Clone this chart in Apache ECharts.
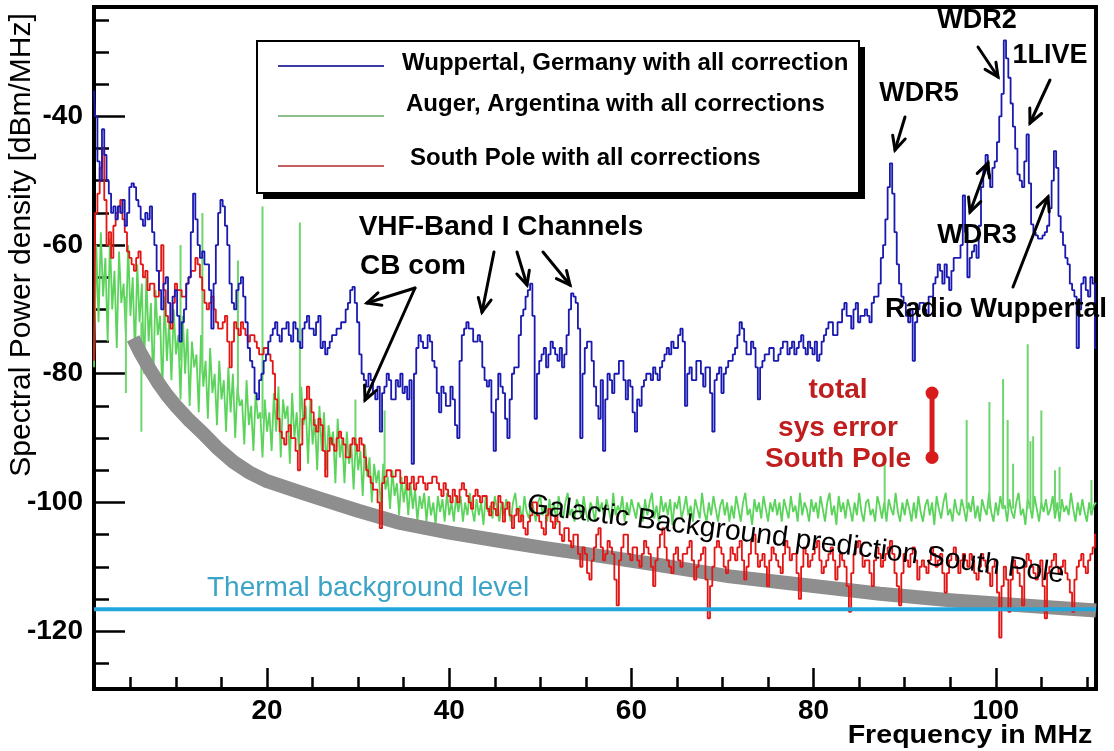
<!DOCTYPE html>
<html>
<head>
<meta charset="utf-8">
<script src="https://cdn.jsdelivr.net/npm/echarts@6/dist/echarts.min.js"></script>
<style>
html,body{margin:0;padding:0;background:#fff;}
#chart{width:1114px;height:751px;}
</style>
</head>
<body>
<div id="chart"></div>
<script>
// ---------------- data ----------------
const freqStart = 1.0;   // MHz, first sample of every spectrum
const freqStep = 0.25;   // MHz between samples

// Wuppertal, Germany (dBm/MHz), 1.00 ... 111.00 MHz
const wuppertal = [
  -36, -40, -47, -50, -42, -46, -50, -52, -55, -54, -56, -54, -55, -53, -57, -55, -51, -50.4, -51, -53,
  -54, -56, -57, -55, -56, -54, -58, -60, -64, -67, -70, -66, -65, -69, -72, -68, -67, -71, -75, -72,
  -70, -66, -65, -58, -52, -56, -60, -62, -61, -63, -63, -67, -73, -66, -60, -55, -53, -54, -57, -60,
  -66, -69, -70, -67, -66, -65, -68, -72, -76, -78, -79, -83, -84, -81, -80, -78, -77, -75, -74, -73,
  -72, -74, -75, -73, -73, -72, -74, -75, -72, -73, -75, -76, -73, -72, -71, -73, -73, -74, -72, -71,
  -76, -75, -77, -76, -75, -74, -74, -73, -73, -72, -72, -70, -69, -67, -66.5, -69, -72, -77, -80, -81,
  -82, -80, -81, -83, -84, -82, -89, -83, -82, -80, -81, -84, -84, -81, -82, -80, -83, -82, -84, -81,
  -94, -80, -76, -74, -75, -76, -76, -74, -75, -78, -79, -83, -86, -82, -83, -85, -85, -82, -84, -88,
  -90, -78, -74, -73, -72, -73, -73, -75, -75, -74, -75, -79, -81, -82, -81, -86, -92, -84, -80, -82,
  -83, -87, -90, -84, -80, -79, -79, -74, -71, -70, -68, -67, -66, -71, -87, -80, -78, -77, -76, -79,
  -77, -75, -76, -77, -78, -76, -79, -77, -74, -70, -67.5, -68, -69, -73, -90, -80, -76, -75, -75, -78,
  -82, -85, -87, -81, -92, -84, -80, -81, -83, -80, -80, -78, -78, -81, -84, -81, -82, -86, -89, -84,
  -85, -82, -81, -80, -80, -81, -79, -80, -81, -79, -78, -77, -76, -77, -75, -76, -76, -74, -73, -75,
  -85, -80, -79, -81, -81, -78, -78, -80, -82, -79, -79, -83, -89, -81, -80, -79, -83, -80, -79, -78,
  -78, -77, -76, -74, -72, -73, -75, -77, -77, -75, -76, -79, -84, -79, -78, -77, -77, -76, -76, -78,
  -78, -77, -76, -75, -75, -77, -76, -75, -77, -76, -75, -74, -76, -77, -75, -76, -77, -75, -78, -77,
  -75, -74, -73, -72, -72, -74, -74, -72, -72, -70, -69, -71, -71, -73, -70, -69, -72, -71, -71, -70,
  -71, -72, -69, -68, -68, -66, -62, -60, -56, -51, -47.3, -52, -58, -63, -66, -68, -69, -71, -72, -70,
  -78, -72, -70, -69, -69, -70, -71, -68, -68, -66, -65, -63, -64, -66, -63, -65, -67, -64, -62, -62,
  -62, -60, -52.3, -58, -65, -62, -61, -60, -62, -57, -51, -48, -46, -49, -51, -48, -47, -44, -40, -36.5,
  -28.2, -31, -34, -38, -41.6, -45, -49, -50, -51, -47, -42.8, -50.4, -56.8, -58, -58.5, -59, -59, -58.5, -58, -57,
  -54.3, -50, -45.4, -48, -55.5, -58, -60, -62, -63, -66, -67, -68, -76, -70, -66, -65, -67, -68, -65, -66,
  -76
];

// Auger, Argentina (dBm/MHz), 1.00 ... 111.00 MHz
const auger = [
  -79, -60, -72, -58, -68, -62, -75, -59, -70, -64, -76, -61, -69, -66, -74, -60, -71, -65, -77, -63,
  -72, -66, -80, -65, -75, -69, -82, -67, -74, -71, -83, -68, -78, -72, -81, -70, -77, -74, -84, -71,
  -80, -73, -85, -75, -79, -77, -86, -74, -82, -78, -87, -76, -83, -80, -88, -78, -84, -81, -89, -79,
  -86, -80, -90, -82, -85, -84, -91, -81, -88, -85, -92, -83, -87, -86, -93, -84, -89, -86, -92, -83,
  -89, -82, -93, -84, -87, -85, -94, -83, -90, -86, -92, -82, -88, -85, -94, -84, -91, -87, -95, -85,
  -92, -86, -95, -88, -91, -89, -97, -87, -93, -90, -97, -89, -94, -91, -98, -90, -95, -92, -99, -91,
  -96, -93, -100, -94, -97, -95, -101, -94, -98, -96, -101, -95, -99, -97, -102, -96, -100, -97, -102, -97,
  -101, -98, -103, -99, -101, -98.5, -103, -99, -102, -100, -103.5, -99, -101.5, -99.5, -103, -98.5, -102, -100, -103, -99,
  -101.5, -99, -103, -100, -102, -98.5, -101, -103, -99.5, -102, -100, -103.5, -99, -101.5, -100.5, -102.5, -99, -101, -103, -100,
  -102, -99.5, -101, -103, -100, -98.5, -102, -100.5, -103, -99, -101.5, -102.5, -99.5, -101, -103, -100, -99, -102, -100.5, -103,
  -99.5, -102, -100, -103.5, -99, -101, -102.5, -100, -98.5, -102, -101, -103, -99.5, -100.5, -102.5, -99, -101.5, -103, -100, -101,
  -103, -99, -101.5, -100, -102.5, -99.5, -101, -103, -98.5, -102, -100.5, -101.5, -99, -103, -100, -102, -99.5, -101, -102.5, -100,
  -101, -103, -99.5, -102, -100, -98.5, -102.5, -100.5, -103, -99, -101.5, -100, -102, -99.5, -103.5, -100, -101, -99, -102.5, -101,
  -99, -102, -100.5, -103, -99.5, -101, -102.5, -98.5, -101.5, -103, -100, -102, -99, -101, -103, -100.5, -99.5, -102, -100, -103,
  -100.5, -102.5, -99, -101, -103, -100, -98.5, -102, -101, -103.5, -99.5, -101.5, -100, -102.5, -99, -101, -103, -100, -101.5, -99.5,
  -102, -100, -103, -99.5, -101, -102.5, -99, -101.5, -100.5, -103, -98.5, -102, -100, -101, -103, -99.5, -101.5, -100, -102.5, -99,
  -101, -103, -100, -98.5, -102, -100.5, -103.5, -99, -101.5, -100, -102.5, -99.5, -101, -103, -100, -102, -98.5, -101.5, -103, -100,
  -99.5, -102, -101, -103, -99, -100.5, -102.5, -100, -103, -99.5, -101, -102, -98.5, -101.5, -103, -100, -102, -99.5, -101, -103,
  -100, -102.5, -99, -101.5, -103, -100.5, -99.5, -102, -100, -103.5, -99, -101, -102.5, -100, -98.5, -102, -101, -103, -99.5, -101.5,
  -102, -99.5, -101, -103, -100, -101.5, -99, -102.5, -100.5, -103, -99.5, -101, -102, -98.5, -101.5, -103, -100, -102, -99, -101,
  -100.5, -103, -99.5, -101.5, -102.5, -100, -98.5, -102, -101, -103.5, -99.5, -100.5, -102.5, -99, -101, -103, -100, -101.5, -99.5, -102,
  -101, -99, -102.5, -100, -103, -99.5, -101.5, -100.5, -102, -98.5, -101, -103, -100, -102, -99.5, -101.5, -103, -100, -102, -100.5,
  -100
];

// Auger narrow-band lines: [freq MHz, level at foot, level at tip]
const augerSpikes = [
  [4.5, -68, -83], [6.2, -72, -89], [10.5, -78, -60], [12.9, -80, -55],
  [16.8, -84, -62.4], [19.5, -87, -54], [23.6, -86, -56.5], [29.7, -92, -84],
  [32.9, -96, -85.7], [87.8, -101, -94], [96.8, -101, -87.2], [99.3, -101, -84.4],
  [100.8, -101, -80.8], [101.3, -101, -87.2], [101.9, -101, -94], [103.5, -101, -75.4],
  [103.8, -101, -90.5], [104.1, -101, -89.7], [105.0, -101, -85.7], [106.5, -101, -95],
  [107.0, -101, -94.5], [110.5, -101, -96.5]
];

// South Pole (dBm/MHz), 1.00 ... 111.00 MHz
const southPole = [
  -78, -55, -52, -48, -45, -53, -60, -58, -62, -57, -55, -54, -53, -56, -58, -61, -62, -63, -64, -62,
  -61, -63, -65, -64, -67, -66, -66, -68, -68, -64, -60, -67, -71, -72, -73, -69, -66, -67, -67, -68,
  -68, -66, -65, -64, -64, -62, -63, -65, -67, -69, -70, -69, -68, -70, -72, -73, -73, -72, -71, -75,
  -79, -75, -72, -73, -74, -72, -73, -74, -75, -74, -74, -75, -76, -77, -77, -76, -76, -77, -78, -80,
  -84, -87, -89, -90, -91, -89, -88, -90, -90, -92, -95, -91, -87, -84, -82, -84, -86, -88, -89, -87,
  -88, -92, -96, -92, -90, -91, -92, -90, -89, -90, -91, -93, -93, -91, -90, -91, -92, -90, -91, -93,
  -95, -96, -97, -98, -98, -100, -104, -97, -96, -95, -95, -96, -96, -95, -95, -97, -97, -96, -98, -97,
  -96, -98, -97, -96, -96, -97, -98, -97, -97, -96, -96, -97, -98, -99, -97, -98, -99, -100, -98, -99,
  -100, -98, -97, -98, -99, -100, -101, -99, -98, -99, -100, -99, -99, -101, -102, -100, -101, -102, -99, -100,
  -103, -101, -100, -102, -104, -102, -101, -103, -102, -104, -105, -103, -102, -100, -100, -102, -103, -104, -105, -102,
  -101, -103, -104, -102, -103, -105, -106, -104, -104, -106, -107, -105, -105, -108, -110, -107, -108, -111, -112, -109,
  -107, -105, -104, -107, -109, -108, -106, -107, -108, -112, -116, -109, -107, -105, -105, -108, -109, -107, -107, -109,
  -110, -108, -106, -107, -108, -110, -113, -109, -107, -105, -104, -107, -109, -110, -111, -108, -107, -109, -110, -108,
  -108, -107, -106, -109, -112, -110, -109, -108, -107, -112, -118, -113, -110, -107, -106, -107, -108, -110, -111, -109,
  -107, -108, -109, -107, -106, -109, -112, -110, -108, -106, -105, -108, -110, -109, -108, -110, -113, -109, -107, -108,
  -109, -110, -111, -108, -106, -107, -109, -108, -108, -111, -115, -110, -107, -108, -110, -109, -108, -107, -106, -109,
  -111, -110, -109, -108, -107, -109, -112, -110, -108, -109, -110, -113, -117, -111, -108, -107, -106, -108, -110, -109,
  -109, -111, -113, -109, -107, -108, -110, -109, -108, -107, -106, -108, -111, -113, -116, -111, -108, -109, -110, -108,
  -107, -109, -112, -110, -109, -110, -111, -109, -107, -108, -110, -109, -108, -111, -114, -111, -109, -108, -107, -109,
  -111, -109, -108, -109, -110, -108, -109, -111, -112, -110, -108, -109, -110, -111, -113, -110, -109, -114, -121, -113,
  -110, -112, -117, -112, -109, -110, -111, -113, -116, -110, -108, -109, -110, -111, -112, -110, -109, -113, -118, -111,
  -110, -109, -108, -110, -111, -110, -109, -111, -112, -114, -117, -112, -110, -109, -108, -110, -111, -109, -108, -107,
  -105
];

// Galactic background prediction (South Pole)
const galFreq = [5.3, 6, 7, 8, 9, 10, 11.5, 13, 14.5, 16.3, 18, 20, 23.6, 25.8, 30, 34.6, 40, 45.6, 50, 56.5, 62, 70.8, 80, 87.3, 95, 100, 105, 111];
const galVals = [-74.5, -76.5, -79, -81.3, -83.3, -85, -87.3, -89.3, -91.5, -93.7, -95.3, -96.7, -98.4, -99.4, -101.3, -103.2, -104.7, -106, -107, -108.3, -109.5, -111.5, -113, -114.2, -115.2, -115.7, -116.2, -116.8];

// Thermal background level
const thermalFreq = [1, 111];
const thermalLevel = -116.6;

// total systematic error bar (South Pole)
const sysErrFreq = 93;
const sysErrRange = [-83, -93];

// axes
const xMajorTicks = [20, 40, 60, 80, 100];
const xMinorTicks = [5, 10, 15, 20, 25, 30, 35, 40, 45, 50, 55, 60, 65, 70, 75, 80, 85, 90, 95, 100, 105, 110];
const yMajorTicks = [-120, -100, -80, -60, -40];
const yMinorTicks = [-125, -120, -115, -110, -105, -100, -95, -90, -85, -80, -75, -70, -65, -60, -55, -50, -45, -40, -35, -30, -25];

// ---------------- build ----------------
const FONT = "'Liberation Sans', Arial, Helvetica, sans-serif";
const toPairs = arr => arr.map((v, i) => [freqStart + i * freqStep, v]);
const spikeData = [];
augerSpikes.forEach(s => { spikeData.push([s[0], s[1]], [s[0], s[2]], '-'); });

const chart = echarts.init(document.getElementById('chart'), null, {renderer: 'canvas'});

function arrow(x1, y1, x2, y2, both) {
  const els = [];
  const ls = {stroke: '#000', lineWidth: 3, lineCap: 'round'};
  els.push({type: 'line', shape: {x1, y1, x2, y2}, style: ls, z: 100});
  const head = (ax, ay, bx, by) => {
    const a = Math.atan2(by - ay, bx - ax);
    const L = 15, w = 0.45;
    return {type: 'polyline', shape: {points: [
      [bx - L * Math.cos(a - w), by - L * Math.sin(a - w)], [bx, by],
      [bx - L * Math.cos(a + w), by - L * Math.sin(a + w)]]},
      style: Object.assign({fill: null}, ls, {lineJoin: 'miter'}), z: 100};
  };
  els.push(head(x1, y1, x2, y2));
  if (both) els.push(head(x2, y2, x1, y1));
  return els;
}
function txt(text, x, y, opt) {
  opt = opt || {};
  return {type: 'text', x, y, rotation: opt.rot || 0, scaleX: opt.sx || 1, z: 101,
    style: {text, fontFamily: FONT, fontSize: opt.size || 28, fontWeight: opt.weight || 'bold',
      fill: opt.color || '#000', align: opt.align || 'center', verticalAlign: 'middle',
      textAlign: opt.align || 'center', textVerticalAlign: 'middle'}};
}

const graphics = [].concat(
  // legend box
  [{type: 'rect', shape: {x: 263, y: 47, width: 602, height: 152}, style: {fill: '#000'}, z: 90},
   {type: 'rect', shape: {x: 257, y: 41, width: 602, height: 152}, style: {fill: '#fff', stroke: '#000', lineWidth: 2}, z: 91},
   {type: 'line', shape: {x1: 278, y1: 66, x2: 384, y2: 66}, style: {stroke: '#3c3ca8', lineWidth: 2}, z: 92},
   {type: 'line', shape: {x1: 278, y1: 116, x2: 384, y2: 116}, style: {stroke: '#8cbf8c', lineWidth: 2}, z: 92},
   {type: 'line', shape: {x1: 278, y1: 166, x2: 384, y2: 166}, style: {stroke: '#c46060', lineWidth: 2}, z: 92},
   txt('Wuppertal, Germany with all correction', 402, 63, {size: 24, align: 'left'}),
   txt('Auger, Argentina with all corrections', 406, 104, {size: 24, align: 'left'}),
   txt('South Pole with all corrections', 410, 158, {size: 24, align: 'left'}),
   // annotations
   txt('WDR2', 977, 21, {size: 27}),
   txt('1LIVE', 1050, 56, {size: 27}),
   txt('WDR5', 919, 94, {size: 27}),
   txt('WDR3', 977, 236, {size: 27}),
   txt('Radio Wuppertal', 996, 309, {size: 28}),
   txt('VHF-Band I Channels', 501, 227, {size: 28}),
   txt('CB com', 413, 266, {size: 28}),
   txt('total', 838, 390, {size: 28, color: '#c01e1e'}),
   txt('sys error', 838, 428, {size: 28, color: '#c01e1e'}),
   txt('South Pole', 838, 459, {size: 28, color: '#c01e1e'}),
   txt('Thermal background level', 207, 588, {size: 28, weight: 'normal', color: '#3aa3c6', align: 'left'}),
   txt('Galactic Background prediction South Pole', 527, 505, {size: 28.5, weight: 'normal', align: 'left', rot: -7.4 * Math.PI / 180}),
   txt('Spectral Power density [dBm/MHz]', 22, 245, {size: 30, weight: 'normal', rot: Math.PI / 2}),
   txt('Frequency in MHz', 970, 736, {size: 26, sx: 1.1})
  ],
  arrow(415, 288, 367, 303), arrow(415, 288, 365, 400),
  arrow(494, 252, 482, 312), arrow(517, 252, 527, 285), arrow(543, 252, 570, 285),
  arrow(978, 47, 998, 77), arrow(1050, 80, 1030, 123), arrow(905, 117, 895, 150),
  arrow(970, 212, 988, 163, true), arrow(1013, 287, 1048, 197)
);

const option = {
  animation: false,
  backgroundColor: '#fff',
  grid: {left: 94, right: 18, top: 7, bottom: 62, show: true, borderColor: '#000', borderWidth: 4, backgroundColor: 'transparent'},
  xAxis: [
    {type: 'value', min: 1, max: 111, position: 'bottom',
     axisLine: {show: true, onZero: false, lineStyle: {color: '#000', width: 4}},
     axisTick: {show: true, inside: true, length: 21, customValues: xMajorTicks, lineStyle: {color: '#000', width: 2.5}},
     axisLabel: {show: true, customValues: xMajorTicks, margin: 8, color: '#000', fontSize: 28, fontWeight: 'bold', fontFamily: FONT},
     splitLine: {show: false}},
    {type: 'value', min: 1, max: 111, position: 'bottom',
     axisLine: {show: false, onZero: false},
     axisTick: {show: true, inside: true, length: 12, customValues: xMinorTicks, lineStyle: {color: '#000', width: 2.5}},
     axisLabel: {show: false}, splitLine: {show: false}}
  ],
  yAxis: [
    {type: 'value', min: -129, max: -23, position: 'left',
     axisLine: {show: true, onZero: false, lineStyle: {color: '#000', width: 4}},
     axisTick: {show: true, inside: true, length: 31, customValues: yMajorTicks, lineStyle: {color: '#000', width: 2.5}},
     axisLabel: {show: true, customValues: yMajorTicks, margin: 11, color: '#000', fontSize: 28, fontWeight: 'bold', fontFamily: FONT},
     splitLine: {show: false}},
    {type: 'value', min: -129, max: -23, position: 'left',
     axisLine: {show: false, onZero: false},
     axisTick: {show: true, inside: true, length: 15, customValues: yMinorTicks, lineStyle: {color: '#000', width: 2.5}},
     axisLabel: {show: false}, splitLine: {show: false}}
  ],
  graphic: graphics,
  series: [
    {name: 'Auger, Argentina with all corrections', type: 'line', data: toPairs(auger), symbol: 'none',
     lineStyle: {color: '#5cd45c', width: 1.8}, z: 2},
    {name: 'Auger lines', type: 'line', data: spikeData, symbol: 'none', connectNulls: false,
     lineStyle: {color: '#6fd66f', width: 2}, z: 2},
    {name: 'Galactic Background prediction South Pole', type: 'line', smooth: false,
     data: galFreq.map((f, i) => [f, galVals[i]]), symbol: 'none',
     lineStyle: {color: '#8e8e8e', width: 14, cap: 'butt', join: 'round'}, z: 3},
    {name: 'South Pole with all corrections', type: 'line', step: 'middle', data: toPairs(southPole), symbol: 'none',
     lineStyle: {color: '#e31616', width: 1.8}, z: 4},
    {name: 'Thermal background level', type: 'line', data: thermalFreq.map(f => [f, thermalLevel]), symbol: 'none',
     lineStyle: {color: '#22a6dc', width: 4}, z: 5},
    {name: 'Wuppertal, Germany with all correction', type: 'line', step: 'middle', data: toPairs(wuppertal), symbol: 'none',
     lineStyle: {color: '#1a1ab0', width: 1.8}, z: 6},
    {name: 'total sys error South Pole', type: 'line', data: sysErrRange.map(v => [sysErrFreq, v]),
     symbol: 'circle', symbolSize: 13, itemStyle: {color: '#d81c1c'},
     lineStyle: {color: '#d81c1c', width: 5}, z: 7}
  ]
};
chart.setOption(option);
</script>
</body>
</html>
